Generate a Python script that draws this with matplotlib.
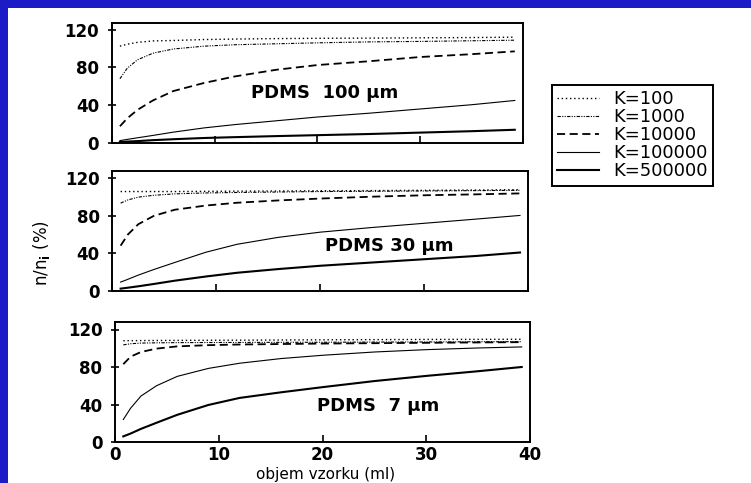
import matplotlib.pyplot as plt
from matplotlib.patches import Rectangle

# objem vzorku (ml) - spolecne body pro vsechny krivky
objem = [0.8, 1.5, 2.5, 4, 6, 9, 12, 16, 20, 25, 30, 35, 39.2]
popisky = ['K=100', 'K=1000', 'K=10000', 'K=100000', 'K=500000']

# n/n_i (%) pro PDMS 100 um
pdms100_k100 = [102.5, 104.5, 106.5, 108, 108.5, 109.5, 110, 110.5, 110.8, 111, 111.3, 111.6, 112]
pdms100_k1000 = [68, 79, 88, 95, 99.5, 102.5, 104, 105, 106, 107, 107.5, 108.2, 108.8]
pdms100_k10000 = [17.7, 26, 35, 45, 55, 63.6, 70.5, 77.5, 82.5, 86.5, 91, 94, 97]
pdms100_k100000 = [2.5, 3.8, 5.5, 8, 11.5, 16, 19.5, 23.5, 27.5, 31.5, 36, 40.5, 45]
pdms100_k500000 = [1, 1.5, 2, 3, 4, 5.3, 6.2, 7.3, 8.3, 9.5, 11, 12.5, 14]

# PDMS 30 um
pdms30_k100 = [106, 106, 106, 106, 106, 106.2, 106.4, 106.6, 106.8, 107, 107.3, 107.6, 108]
pdms30_k1000 = [93.6, 97, 100, 102, 103.5, 104.5, 105, 105.5, 106, 106.3, 106.6, 107, 107.3]
pdms30_k10000 = [48, 60, 71, 80, 86.5, 91, 94, 96.5, 98.5, 100.5, 102, 103, 104]
pdms30_k100000 = [9, 12, 16.5, 22.5, 30, 41, 49.5, 57, 62.5, 67.5, 72, 76.5, 80.4]
pdms30_k500000 = [2, 3, 4.5, 7, 10.5, 15, 19, 23, 26.5, 30, 33.5, 37, 40.7]

# PDMS 7 um
pdms7_k100 = [108, 108.1, 108.2, 108.3, 108.4, 108.5, 108.6, 108.8, 109, 109.2, 109.4, 109.5, 109.6]
pdms7_k1000 = [103.6, 104.8, 105.5, 105.8, 106, 106.1, 106.2, 106.3, 106.4, 106.6, 106.7, 106.9, 107]
pdms7_k10000 = [83, 91, 96, 99.6, 102, 103.3, 104, 104.5, 105, 105.4, 105.8, 106.2, 106.5]
pdms7_k100000 = [24, 36, 49, 60, 70, 78.5, 84, 89, 92.5, 96, 98.5, 100.3, 101.4]
pdms7_k500000 = [6, 9, 14, 20.5, 29, 39.5, 47, 53, 58.5, 65, 70.5, 75.5, 80]

panely = [
    ('PDMS  100 \u03bcm', [pdms100_k100, pdms100_k1000, pdms100_k10000, pdms100_k100000, pdms100_k500000]),
    ('PDMS 30 \u03bcm', [pdms30_k100, pdms30_k1000, pdms30_k10000, pdms30_k100000, pdms30_k500000]),
    ('PDMS  7 \u03bcm', [pdms7_k100, pdms7_k1000, pdms7_k10000, pdms7_k100000, pdms7_k500000]),
]

styly = [
    dict(linestyle=(0, (1, 2)), linewidth=1.0),
    dict(linestyle=(0, (3, 1.2, 1, 1.2, 1, 1.2)), linewidth=0.8),
    dict(linestyle=(0, (4.5, 2.5)), linewidth=1.3),
    dict(linestyle='-', linewidth=0.8),
    dict(linestyle='-', linewidth=1.5),
]

# rozmisteni grafu v pixelech: levy, pravy, horni, dolni okraj
W, H = 751, 483
okraje = [(111.7, 523, 23, 143), (112.3, 528.3, 171, 290.5), (115, 530, 322, 442)]
ymax = [127, 128, 128]
text_pos = [(20.7, 53), (26.6, 48), (25.4, 38)]

plt.rcParams['font.family'] = 'DejaVu Sans'
plt.rcParams['font.weight'] = 'bold'

fig = plt.figure(figsize=(W / 100, H / 100), dpi=100, facecolor='#1c1cc6')
# bily podklad, modry okraj zustane jen nahore a vlevo
fig.patches.append(Rectangle((8 / W, 0), 1, (H - 8) / H, transform=fig.transFigure,
                             facecolor='white', edgecolor='none', zorder=-10))

for i, (nazev, krivky) in enumerate(panely):
    l, r, t, b = okraje[i]
    ax = fig.add_axes([l / W, 1 - b / H, (r - l) / W, (b - t) / H])
    for y, lab, st in zip(krivky, popisky, styly):
        ax.plot(objem, y, color='black', label=lab, **st)
    ax.set_xlim(0, 40)
    ax.set_ylim(0, ymax[i])
    ax.set_yticks([0, 40, 80, 120])
    ax.set_xticks([0, 10, 20, 30, 40])
    ax.tick_params(axis='x', direction='in', length=5, width=1.2, labelsize=12, pad=3)
    ax.tick_params(axis='y', direction='inout', length=6, width=1.2, labelsize=12, pad=6)
    if i < 2:
        ax.tick_params(axis='x', labelbottom=False)
    for s in ax.spines.values():
        s.set_linewidth(1.4)
    ax.text(text_pos[i][0], text_pos[i][1], nazev, fontsize=13, fontweight='bold',
            ha='center', va='center')
    if i == 0:
        handles, labels = ax.get_legend_handles_labels()

leg = fig.legend(handles, labels, loc='upper left', bbox_to_anchor=(552 / W, 1 - 85 / H),
                 borderaxespad=0, fancybox=False, edgecolor='black', framealpha=1,
                 prop={'size': 13, 'weight': 'normal'}, handlelength=2.3,
                 handletextpad=0.8, labelspacing=0.0, borderpad=0.3)
leg.get_frame().set_linewidth(1.4)

fig.text(42 / W, 1 - 253 / H, r'n/n$_{\rm i}$ (%)', rotation=90, fontsize=12,
         fontweight='normal', ha='center', va='center')
fig.text(326 / W, 1.5 / H, 'objem vzorku (ml)', fontsize=11, fontweight='normal',
         ha='center', va='bottom')

fig.savefig('out.png', dpi=100, facecolor=fig.get_facecolor())
